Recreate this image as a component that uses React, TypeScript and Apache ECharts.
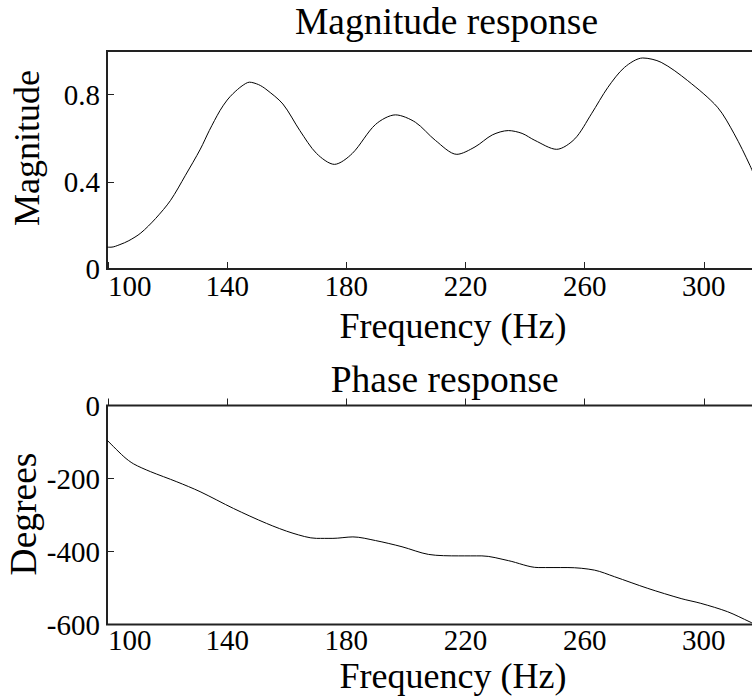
import { useEffect, useRef } from "react";
import * as echarts from "echarts";

const freqTicks = [100, 140, 180, 220, 260, 300];
const magTicks = [0, 0.4, 0.8];

const magFreq = [99.7, 101, 104, 107, 111, 116, 121, 126, 131, 134, 137.6, 140, 142, 145, 147.5, 150.5, 153, 158.7, 164.4, 170, 176, 182, 189.8, 196.5, 203.2, 209.9, 217.1, 223.2, 229, 234.4, 239, 243.3, 250.6, 256.7, 262.3, 267.8, 273.4, 279.5, 285.7, 294.6, 304.6, 310.2, 315.5, 320];
const magValues = [0.1, 0.1, 0.112, 0.13, 0.165, 0.232, 0.315, 0.43, 0.55, 0.635, 0.727, 0.775, 0.805, 0.84, 0.857, 0.846, 0.825, 0.757, 0.635, 0.53, 0.48, 0.53, 0.663, 0.707, 0.673, 0.59, 0.526, 0.56, 0.615, 0.635, 0.622, 0.59, 0.549, 0.597, 0.712, 0.833, 0.925, 0.968, 0.948, 0.864, 0.742, 0.62, 0.475, 0.33];

const phaseFreq = [99.7, 105.3, 108.6, 114.2, 123.1, 130.9, 142.1, 153.2, 162.1, 170, 175.5, 182.2, 189.8, 198.7, 207.6, 217.7, 225.5, 234.4, 244.4, 254.4, 263.3, 270, 281.2, 292.4, 299, 308, 315.5, 320];
const phaseValues = [-95, -140, -160, -181, -209, -236, -282, -323, -350, -364, -364, -360, -370, -387, -408, -412, -412, -425, -444, -444, -451, -469, -501, -529, -542, -565, -593, -610];

const FAMILY = "Liberation Serif";

export default function App() {
  const ref = useRef<HTMLDivElement>(null);
  useEffect(() => {
    if (!ref.current) return;
    const chart = echarts.init(ref.current, null, { renderer: "svg" });
    const xMin = 99.66;
    const xMax = 327.6;
    const tickLabel = { color: "#000", fontFamily: FAMILY, fontSize: 29, lineHeight: 22 };
    const xAxisBase = (gridIndex: number, margin: number) => ({
      type: "value" as const,
      gridIndex,
      min: xMin,
      max: xMax,
      axisLine: { show: false },
      splitLine: { show: false },
      axisTick: { show: true, inside: true, length: 7, customValues: freqTicks, lineStyle: { color: "#222", width: 1 } },
      axisLabel: { ...tickLabel, margin, customValues: freqTicks, alignMinLabel: "left" },
    });
    const txt = (text: string, x: number, y: number, size: number, rot = 0) => ({
      type: "text",
      x,
      y,
      rotation: rot,
      style: { text, fill: "#000", fontFamily: FAMILY, fontSize: size, lineHeight: 26, textAlign: "center", textVerticalAlign: "middle" },
    });
    chart.setOption({
      animation: false,
      backgroundColor: "#fff",
      textStyle: { fontFamily: FAMILY, color: "#000" },
      grid: [
        { left: 107, top: 51, width: 679, height: 218, show: true, borderColor: "#222", borderWidth: 2, backgroundColor: "transparent" },
        { left: 107, top: 405.5, width: 679, height: 219, show: true, borderColor: "#222", borderWidth: 2, backgroundColor: "transparent" },
      ],
      xAxis: [xAxisBase(0, 6), xAxisBase(1, 4)],
      yAxis: [
        {
          type: "value",
          gridIndex: 0,
          min: 0,
          max: 1,
          axisLine: { show: false },
          splitLine: { show: false },
          axisTick: { show: true, inside: true, length: 7, customValues: magTicks, lineStyle: { color: "#222", width: 1 } },
          axisLabel: { ...tickLabel, margin: 7, customValues: magTicks },
        },
        {
          type: "value",
          gridIndex: 1,
          min: -600,
          max: 0,
          interval: 200,
          axisLine: { show: false },
          splitLine: { show: false },
          axisTick: { show: true, inside: true, length: 7, lineStyle: { color: "#222", width: 1 } },
          axisLabel: { ...tickLabel, margin: 7 },
        },
      ],
      series: [
        {
          type: "line",
          xAxisIndex: 0,
          yAxisIndex: 0,
          data: magFreq.map((f, i) => [f, magValues[i]]),
          showSymbol: false,
          smooth: 0.3,
          lineStyle: { color: "#000", width: 1 },
        },
        {
          type: "line",
          xAxisIndex: 1,
          yAxisIndex: 1,
          data: phaseFreq.map((f, i) => [f, phaseValues[i]]),
          showSymbol: false,
          smooth: 0.3,
          lineStyle: { color: "#000", width: 1 },
        },
      ],
      graphic: [
        txt("Magnitude response", 446.5, 21.5, 37.5),
        txt("Frequency (Hz)", 453, 326, 36),
        txt("Phase response", 444.7, 379, 37.5),
        txt("Frequency (Hz)", 453, 676, 36),
        txt("Magnitude", 27, 148, 36, Math.PI / 2),
        txt("Degrees", 23, 514, 37.5, Math.PI / 2),
      ],
    });
    return () => chart.dispose();
  }, []);
  return (
    <div style={{ position: "fixed", left: 0, top: 0, width: 752, height: 700, overflow: "hidden", background: "#fff" }}>
      <div ref={ref} style={{ position: "absolute", left: 0, top: 0, width: 800, height: 700 }} />
    </div>
  );
}
